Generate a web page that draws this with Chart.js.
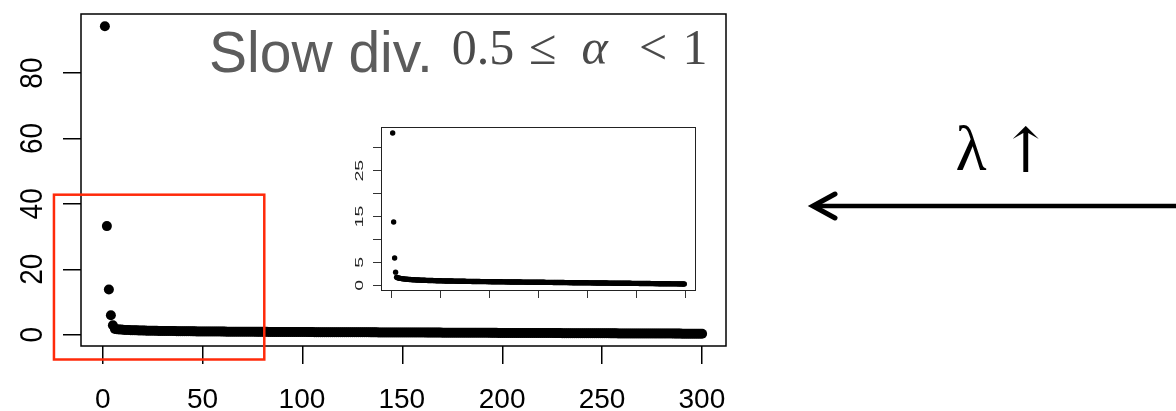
<!DOCTYPE html>
<html>
<head>
<meta charset="utf-8">
<script src="https://cdn.jsdelivr.net/npm/chart.js@4.4.1/dist/chart.umd.min.js"></script>
<style>
  html, body { margin: 0; padding: 0; background: #fff; overflow: hidden; }
  #wrap { position: relative; width: 1176px; height: 411px; }
  #wrap canvas { position: absolute; left: 0; top: 0; }
</style>
</head>
<body>
<div id="wrap">
  <canvas id="main" width="1176" height="411"></canvas>
  <canvas id="inset" width="1176" height="411"></canvas>
</div>
<script>
// Value at each step n = 1..300 (slow divergence regime)
const divValues = [
  94.3, 33.2, 13.8, 5.95, 2.87, 1.75, 1.66, 1.60, 1.55, 1.50,
  1.46, 1.43, 1.40, 1.37, 1.35, 1.33, 1.31, 1.29, 1.27, 1.25,
  1.24, 1.22, 1.21, 1.20, 1.19, 1.17, 1.16, 1.15, 1.14, 1.13,
  1.12, 1.11, 1.10, 1.09, 1.09, 1.08, 1.07, 1.06, 1.05, 1.05,
  1.04, 1.03, 1.03, 1.02, 1.01, 1.01, 1.00, 0.99, 0.99, 0.98,
  0.98, 0.97, 0.97, 0.96, 0.96, 0.95, 0.95, 0.94, 0.94, 0.93,
  0.93, 0.92, 0.92, 0.91, 0.91, 0.91, 0.90, 0.90, 0.89, 0.89,
  0.89, 0.88, 0.88, 0.87, 0.87, 0.87, 0.86, 0.86, 0.86, 0.85,
  0.85, 0.85, 0.84, 0.84, 0.84, 0.83, 0.83, 0.83, 0.82, 0.82,
  0.82, 0.81, 0.81, 0.81, 0.81, 0.80, 0.80, 0.80, 0.79, 0.79,
  0.79, 0.79, 0.78, 0.78, 0.78, 0.77, 0.77, 0.77, 0.77, 0.76,
  0.76, 0.76, 0.76, 0.75, 0.75, 0.75, 0.75, 0.74, 0.74, 0.74,
  0.74, 0.73, 0.73, 0.73, 0.73, 0.72, 0.72, 0.72, 0.72, 0.71,
  0.71, 0.71, 0.71, 0.70, 0.70, 0.70, 0.70, 0.69, 0.69, 0.69,
  0.69, 0.68, 0.68, 0.68, 0.68, 0.67, 0.67, 0.67, 0.67, 0.66,
  0.66, 0.66, 0.66, 0.65, 0.65, 0.65, 0.65, 0.64, 0.64, 0.64,
  0.64, 0.63, 0.63, 0.63, 0.63, 0.62, 0.62, 0.62, 0.62, 0.61,
  0.61, 0.61, 0.61, 0.60, 0.60, 0.60, 0.60, 0.59, 0.59, 0.59,
  0.59, 0.58, 0.58, 0.58, 0.58, 0.57, 0.57, 0.57, 0.57, 0.56,
  0.56, 0.56, 0.56, 0.55, 0.55, 0.55, 0.55, 0.54, 0.54, 0.54,
  0.54, 0.53, 0.53, 0.53, 0.53, 0.52, 0.52, 0.52, 0.52, 0.51,
  0.51, 0.51, 0.51, 0.50, 0.50, 0.50, 0.50, 0.49, 0.49, 0.49,
  0.49, 0.48, 0.48, 0.48, 0.48, 0.47, 0.47, 0.47, 0.47, 0.46,
  0.46, 0.46, 0.46, 0.45, 0.45, 0.45, 0.45, 0.44, 0.44, 0.44,
  0.44, 0.43, 0.43, 0.43, 0.43, 0.42, 0.42, 0.42, 0.42, 0.41,
  0.41, 0.41, 0.41, 0.40, 0.40, 0.40, 0.40, 0.39, 0.39, 0.39,
  0.39, 0.38, 0.38, 0.38, 0.38, 0.37, 0.37, 0.37, 0.37, 0.36,
  0.36, 0.36, 0.36, 0.35, 0.35, 0.35, 0.35, 0.34, 0.34, 0.34,
  0.34, 0.33, 0.33, 0.33, 0.33, 0.32, 0.32, 0.32, 0.32, 0.31,
  0.31, 0.31, 0.31, 0.30, 0.30, 0.30, 0.30, 0.29, 0.29, 0.29
];

// Axis ticks of the main panel
const xTicks = [0, 50, 100, 150, 200, 250, 300];
const xTickLabels = ['0', '50', '100', '150', '200', '250', '300'];
const yTicks = [0, 20, 40, 60, 80];
const yTickLabels = ['0', '20', '40', '60', '80'];

// Axis ticks of the inset (the series without its first step)
const insetXTicks = [0, 50, 100, 150, 200, 250, 300];
const insetYTicks = [0, 5, 10, 15, 20, 25, 30];
const insetYTickLabels = ['0', '5', '', '15', '', '25', ''];

// Highlighted region of the main panel, in data units
const zoomRegionX = [-24.5, 80.8];
const zoomRegionY = [-7.6, 42.8];

// Base-graphics style 4% extension of a data range
function extendRange(lo, hi) {
  const d = (hi - lo) * 0.04;
  return [lo - d, hi + d];
}

// Draw text so that its ink is centred at cx, sitting on baseline y
function inkCentered(ctx, txt, cx, baseY) {
  const m = ctx.measureText(txt);
  ctx.textAlign = 'left';
  ctx.textBaseline = 'alphabetic';
  ctx.fillText(txt, cx - (m.actualBoundingBoxRight - m.actualBoundingBoxLeft) / 2, baseY);
}
// Draw text with its ink centred at cx and ink top at topY
function inkTopCentered(ctx, txt, cx, topY) {
  const m = ctx.measureText(txt);
  ctx.textAlign = 'left';
  ctx.textBaseline = 'alphabetic';
  ctx.fillText(txt, cx - (m.actualBoundingBoxRight - m.actualBoundingBoxLeft) / 2, topY + m.actualBoundingBoxAscent);
}

const SANS = '"Liberation Sans", Arimo, Arial, sans-serif';
const SERIF = '"Liberation Serif", "DejaVu Serif", serif';

const mainPoints = divValues.map((v, i) => ({ x: i + 1, y: v }));
const insetValues = divValues.slice(1);
const insetPoints = insetValues.map((v, i) => ({ x: i + 1, y: v }));

const [mainX0, mainX1] = extendRange(1, divValues.length);
const [mainY0, mainY1] = extendRange(Math.min(...divValues), Math.max(...divValues));
const [insX0, insX1] = extendRange(1, insetValues.length);
const [insY0, insY1] = extendRange(Math.min(...insetValues), Math.max(...insetValues));

// Frame, tick labels, highlight box, headline and the lambda arrow
const mainDecor = {
  id: 'mainDecor',
  afterDraw(chart) {
    const ctx = chart.ctx;
    const ca = chart.chartArea;
    const sx = chart.scales.x, sy = chart.scales.y;
    ctx.save();

    // plot frame
    ctx.strokeStyle = '#000';
    ctx.lineWidth = 1.5;
    ctx.strokeRect(ca.left, ca.top, ca.right - ca.left, ca.bottom - ca.top);

    // x tick labels
    ctx.fillStyle = '#000';
    ctx.font = '28px ' + SANS;
    xTicks.forEach((v, i) => {
      inkCentered(ctx, xTickLabels[i], sx.getPixelForValue(v), ca.bottom + 62);
    });

    // y tick labels, written along the axis
    yTicks.forEach((v, i) => {
      ctx.save();
      ctx.translate(ca.left - 39, sy.getPixelForValue(v));
      ctx.rotate(-Math.PI / 2);
      ctx.scale(1, 1.1);
      ctx.font = '28px ' + SANS;
      ctx.textAlign = 'center';
      ctx.textBaseline = 'alphabetic';
      ctx.fillText(yTickLabels[i], 0, 0);
      ctx.restore();
    });

    // red highlight region
    const rx0 = sx.getPixelForValue(zoomRegionX[0]);
    const rx1 = sx.getPixelForValue(zoomRegionX[1]);
    const ry0 = sy.getPixelForValue(zoomRegionY[1]);
    const ry1 = sy.getPixelForValue(zoomRegionY[0]);
    ctx.strokeStyle = '#ff2a0a';
    ctx.lineWidth = 2.5;
    ctx.strokeRect(rx0, ry0, rx1 - rx0, ry1 - ry0);

    // headline
    ctx.fillStyle = '#5c5c5c';
    ctx.font = '57px ' + SANS;
    {
      const m = ctx.measureText('Slow div.');
      ctx.textAlign = 'left';
      ctx.textBaseline = 'alphabetic';
      ctx.fillText('Slow div.', 211 + m.actualBoundingBoxLeft, 71.5);
    }
    ctx.fillStyle = '#4a4a4a';
    ctx.font = '50px ' + SERIF;
    inkCentered(ctx, '0.5', 483, 63.5);
    inkCentered(ctx, '\u2264', 543, 63.5);
    ctx.font = 'italic 50px ' + SERIF;
    inkCentered(ctx, '\u03B1', 596, 63.5);
    ctx.font = '50px ' + SERIF;
    inkCentered(ctx, '<', 653, 63.5);
    inkCentered(ctx, '1', 695.5, 63.5);

    // lambda label and arrow on the right
    ctx.fillStyle = '#000';
    ctx.font = '64px ' + SERIF;
    inkTopCentered(ctx, '\u03BB', 971.5, 125);
    ctx.font = '62px "DejaVu Serif", serif';
    inkTopCentered(ctx, '\u2191', 1026, 125);

    ctx.strokeStyle = '#000';
    ctx.lineWidth = 4.5;
    ctx.lineCap = 'butt';
    ctx.beginPath();
    ctx.moveTo(816, 206);
    ctx.lineTo(1180, 206);
    ctx.stroke();
    ctx.lineCap = 'round';
    ctx.lineJoin = 'miter';
    ctx.lineWidth = 5;
    ctx.beginPath();
    ctx.moveTo(835, 194);
    ctx.lineTo(813, 206);
    ctx.lineTo(835, 218);
    ctx.stroke();

    ctx.restore();
  }
};

const insetDecor = {
  id: 'insetDecor',
  beforeDraw(chart) {
    const ctx = chart.ctx, ca = chart.chartArea;
    ctx.save();
    ctx.fillStyle = '#fff';
    ctx.fillRect(ca.left, ca.top, ca.right - ca.left, ca.bottom - ca.top);
    ctx.restore();
  },
  afterDraw(chart) {
    const ctx = chart.ctx, ca = chart.chartArea;
    const sy = chart.scales.y;
    ctx.save();
    ctx.strokeStyle = '#222';
    ctx.lineWidth = 1;
    ctx.strokeRect(ca.left + 0.5, ca.top + 0.5, ca.right - ca.left - 1, ca.bottom - ca.top);
    ctx.fillStyle = '#222';
    insetYTicks.forEach((v, i) => {
      if (!insetYTickLabels[i]) return;
      ctx.save();
      ctx.translate(ca.left - 18, sy.getPixelForValue(v));
      ctx.rotate(-Math.PI / 2);
      ctx.scale(1.7, 1);
      ctx.font = '11.5px ' + SANS;
      ctx.textAlign = 'center';
      ctx.textBaseline = 'alphabetic';
      ctx.fillText(insetYTickLabels[i], 0, 0);
      ctx.restore();
    });
    ctx.restore();
  }
};

function tickAxis(min, max, ticks, len, color, width) {
  return {
    type: 'linear',
    min: min,
    max: max,
    afterBuildTicks: s => { s.ticks = ticks.map(v => ({ value: v })); },
    grid: { drawOnChartArea: false, drawTicks: true, tickLength: len, color: color, lineWidth: width },
    border: { display: false },
    ticks: { display: false }
  };
}

new Chart(document.getElementById('main'), {
  type: 'scatter',
  data: {
    datasets: [{
      data: mainPoints,
      pointRadius: 5,
      pointHoverRadius: 5,
      backgroundColor: '#000',
      borderColor: '#000',
      borderWidth: 0
    }]
  },
  options: {
    responsive: false,
    animation: false,
    devicePixelRatio: 1,
    events: [],
    layout: { padding: { left: 63, top: 14, right: 450, bottom: 47 } },
    plugins: { legend: { display: false }, tooltip: { enabled: false } },
    scales: {
      x: tickAxis(mainX0, mainX1, xTicks, 18, '#000', 1.5),
      y: tickAxis(mainY0, mainY1, yTicks, 18, '#000', 1.5)
    }
  },
  plugins: [mainDecor]
});

new Chart(document.getElementById('inset'), {
  type: 'scatter',
  data: {
    datasets: [{
      data: insetPoints,
      pointRadius: 2.7,
      pointHoverRadius: 2.7,
      backgroundColor: '#000',
      borderColor: '#000',
      borderWidth: 0
    }]
  },
  options: {
    responsive: false,
    animation: false,
    devicePixelRatio: 1,
    events: [],
    layout: { padding: { left: 373, top: 127, right: 480, bottom: 113 } },
    plugins: { legend: { display: false }, tooltip: { enabled: false } },
    scales: {
      x: tickAxis(insX0, insX1, insetXTicks, 8, '#333', 1),
      y: tickAxis(insY0, insY1, insetYTicks, 8, '#333', 1)
    }
  },
  plugins: [insetDecor]
});
</script>
</body>
</html>
